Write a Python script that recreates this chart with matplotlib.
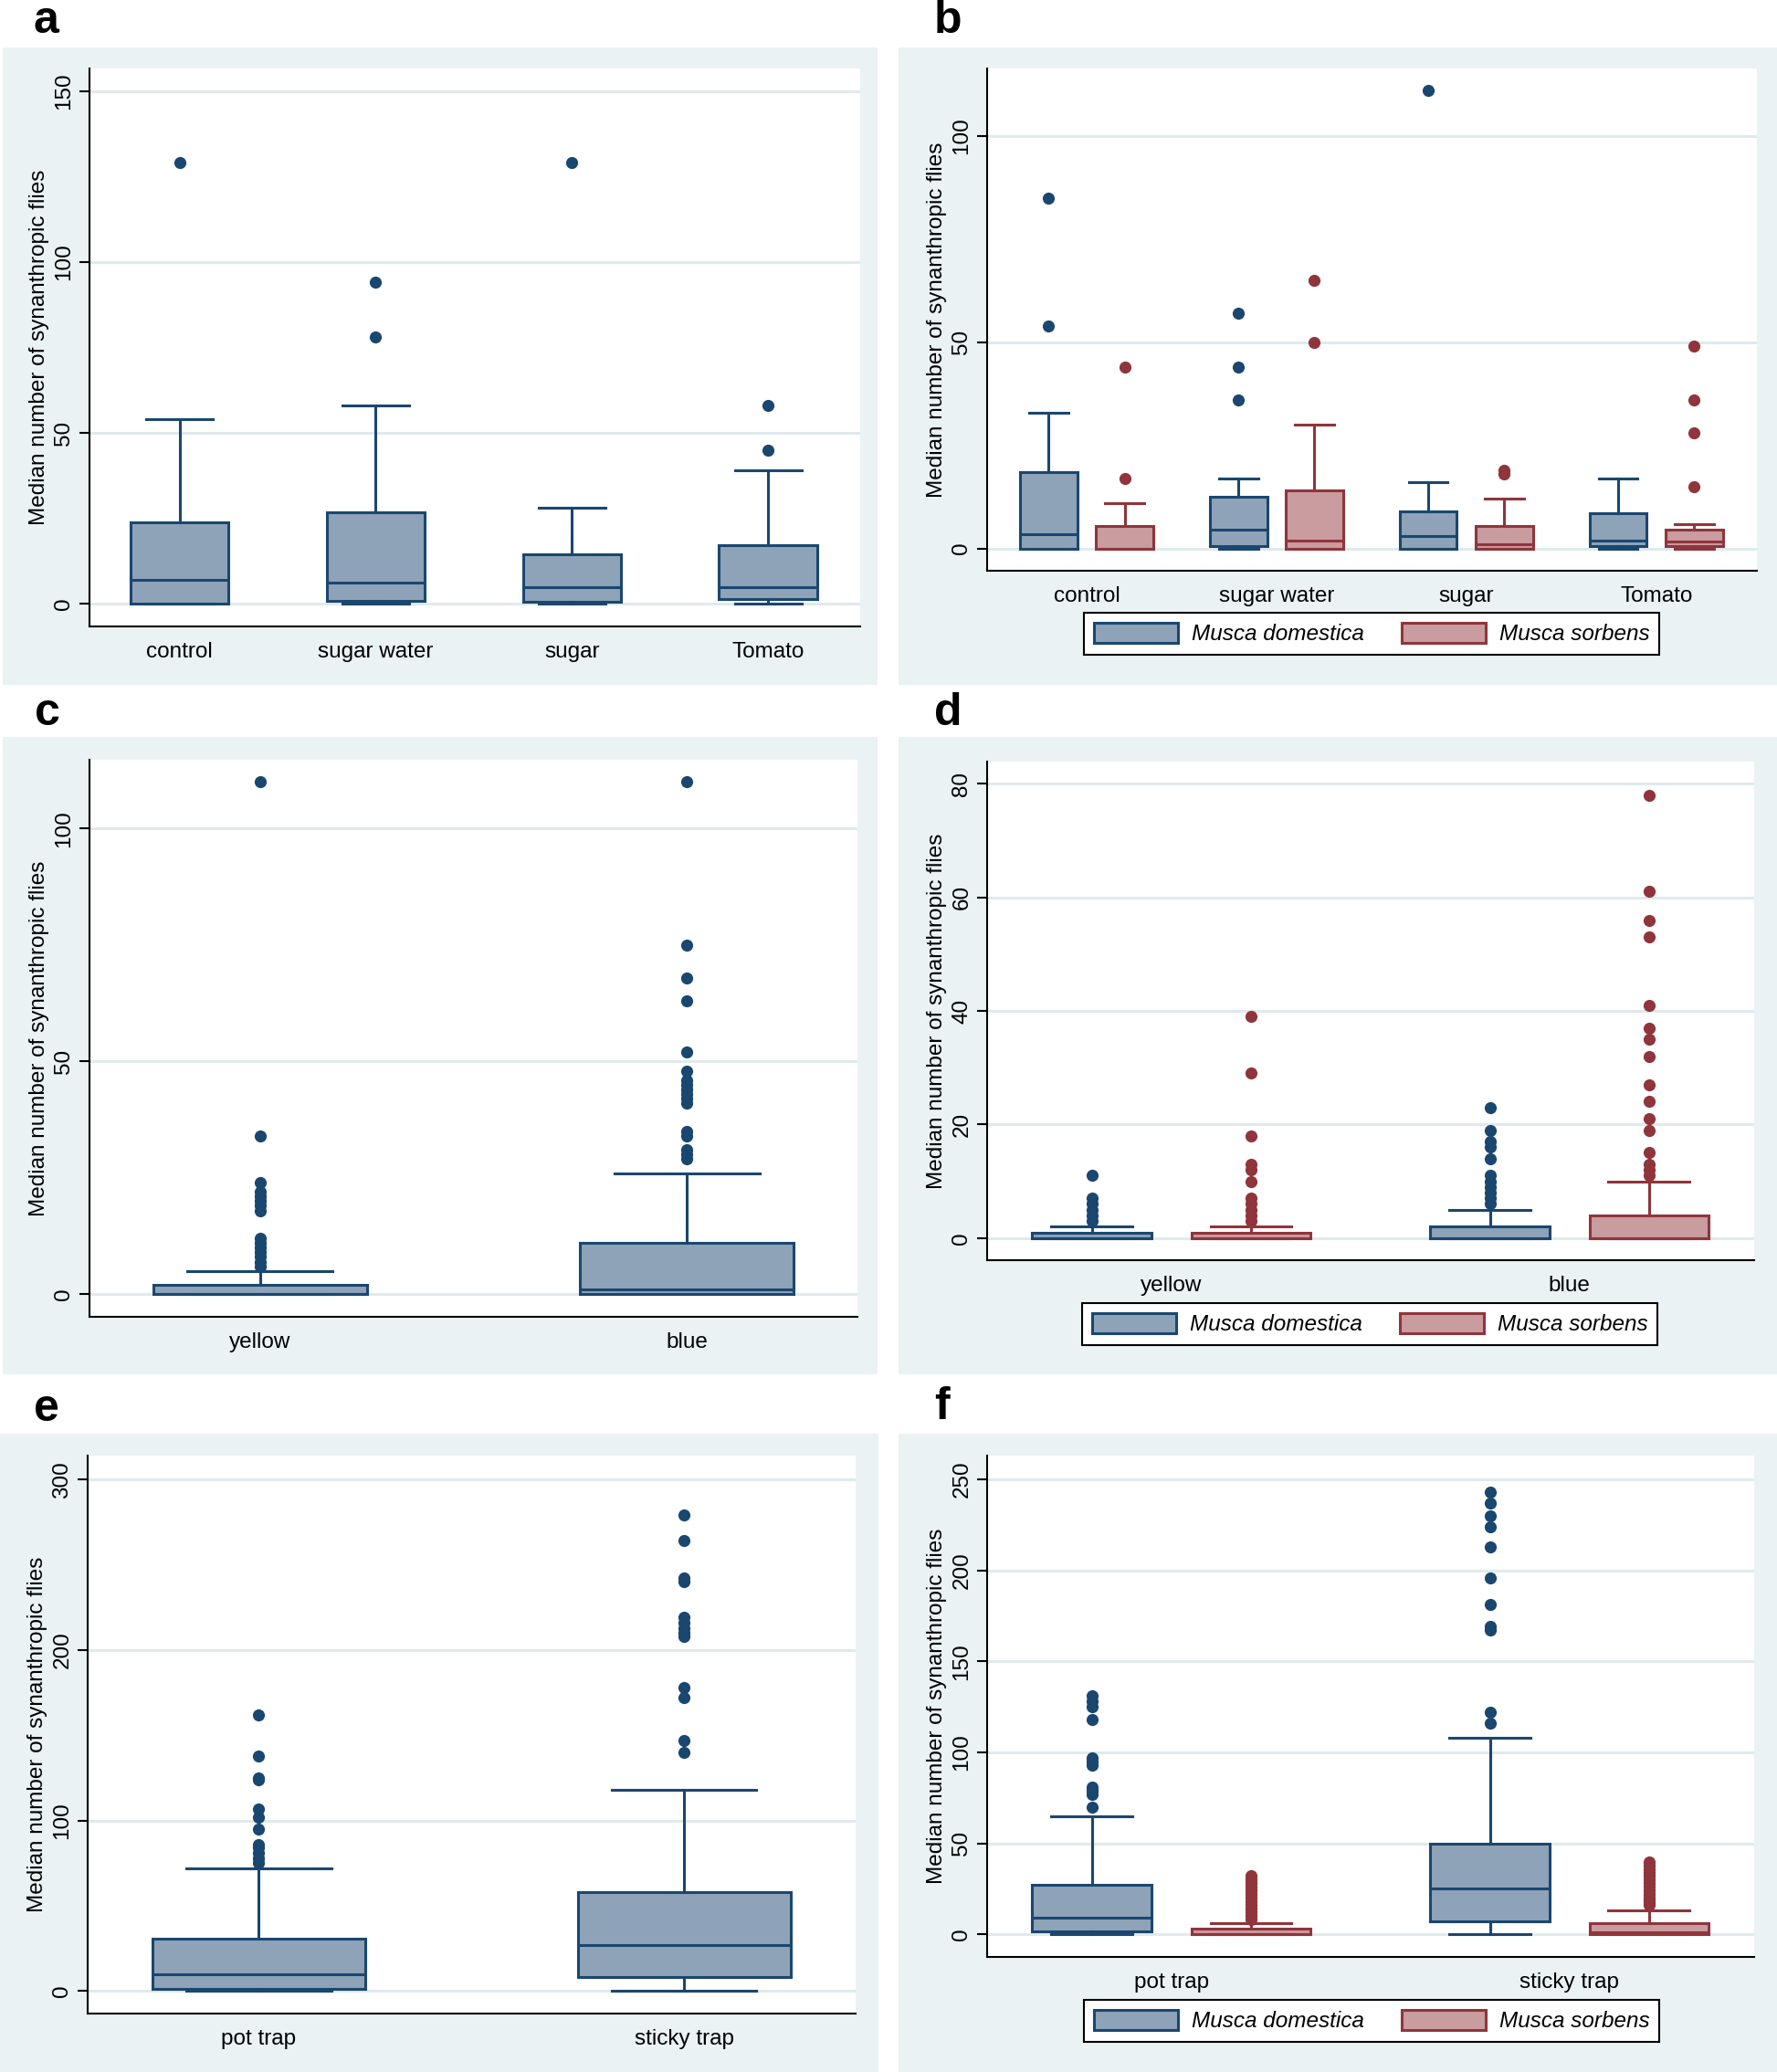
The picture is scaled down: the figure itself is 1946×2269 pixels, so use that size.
import numpy as np
import matplotlib
matplotlib.use('Agg')
import matplotlib.pyplot as plt
from matplotlib.patches import Rectangle, Patch

plt.rcParams['font.family'] = ['Liberation Sans', 'DejaVu Sans']

# ---------------- data ----------------
YLABEL = "Median number of synanthropic flies"
SPECIES = ["Musca domestica", "Musca sorbens"]

# panel a (bait, all flies)
a_cats = ["control", "sugar water", "sugar", "Tomato"]
a_q1 = [0, 1.0, 0.6, 1.3]
a_med = [7.0, 6.3, 4.9, 4.9]
a_q3 = [23.9, 26.9, 14.5, 17.3]
a_lo = [0, 0, 0, 0]
a_hi = [54, 58, 28, 39]
a_out = [[129], [94, 78], [129], [58, 45]]

# panel b (bait, by species)
b_cats = ["control", "sugar water", "sugar", "Tomato"]
b_dom_q1 = [0, 0.5, 0, 0.5]
b_dom_med = [3.5, 4.5, 3.0, 1.8]
b_dom_q3 = [18.5, 12.6, 9.0, 8.5]
b_dom_lo = [0, 0, 0, 0]
b_dom_hi = [33, 17, 16, 17]
b_dom_out = [[85, 54], [57, 44, 36], [111], []]
b_sor_q1 = [0, 0, 0, 0.5]
b_sor_med = [0, 1.9, 1.1, 1.6]
b_sor_q3 = [5.5, 14, 5.5, 4.5]
b_sor_lo = [0, 0, 0, 0]
b_sor_hi = [11, 30, 12, 6]
b_sor_out = [[44, 17], [65, 50], [19, 18], [49, 36, 28, 15]]

# panel c (colour, all flies)
c_cats = ["yellow", "blue"]
c_q1 = [0, 0]
c_med = [0, 1]
c_q3 = [2, 11]
c_lo = [0, 0]
c_hi = [5, 26]
c_out = [[110, 34, 24, 22, 21, 20, 19, 18, 12, 11, 10, 9, 8, 7, 6],
         [110, 75, 68, 63, 52, 48, 46, 45, 44, 43, 42, 41, 35, 34, 31, 30, 29]]

# panel d (colour, by species)
d_cats = ["yellow", "blue"]
d_dom_q1 = [0, 0]
d_dom_med = [0, 0]
d_dom_q3 = [1, 2]
d_dom_lo = [0, 0]
d_dom_hi = [2, 5]
d_dom_out = [[11, 7, 6, 5, 4, 3],
             [23, 19, 17, 16, 14, 11, 10, 9, 8, 7, 6]]
d_sor_q1 = [0, 0]
d_sor_med = [0, 0]
d_sor_q3 = [1, 4]
d_sor_lo = [0, 0]
d_sor_hi = [2, 10]
d_sor_out = [[39, 29, 18, 13, 12, 10, 7, 6, 5, 4, 3],
             [78, 61, 56, 53, 41, 37, 35, 32, 27, 24, 21, 19, 15, 13, 12, 11]]

# panel e (trap type, all flies)
e_cats = ["pot trap", "sticky trap"]
e_q1 = [1.5, 8]
e_med = [10, 27]
e_q3 = [30.6, 58]
e_lo = [0, 0]
e_hi = [72, 118]
e_out = [[162, 138, 125, 124, 107, 102, 95, 86, 84, 81, 78, 75],
         [279, 264, 242, 240, 219, 216, 213, 210, 208, 178, 172, 147, 140]]

# panel f (trap type, by species)
f_cats = ["pot trap", "sticky trap"]
f_dom_q1 = [1.5, 7]
f_dom_med = [9, 25]
f_dom_q3 = [27, 50]
f_dom_lo = [0, 0]
f_dom_hi = [65, 108]
f_dom_out = [[131, 128, 125, 118, 97, 95, 93, 81, 79, 77, 70],
             [243, 237, 230, 224, 213, 196, 181, 169, 167, 122, 116]]
f_sor_q1 = [0, 0]
f_sor_med = [0, 1]
f_sor_q3 = [3, 6]
f_sor_lo = [0, 0]
f_sor_hi = [6, 13]
f_sor_out = [[32, 30, 28, 26, 24, 22, 20, 18, 16, 14, 12, 10, 8],
             [40, 38, 36, 34, 32, 30, 28, 26, 24, 22, 20, 19, 18, 17, 16]]

# ---------------- style ----------------
W, H = 1946, 2269
DOM_FILL, DOM_EDGE = '#8FA3B8', '#1A476F'
SOR_FILL, SOR_EDGE = '#C99CA0', '#90353B'
BG = '#EAF2F3'
GRID = '#E0EAEC'
FS = 17.5
LW = 2.2

fig = plt.figure(figsize=(W / 100, H / 100), dpi=100)
fig.patch.set_facecolor('white')


def px_axes(l, t, r, b):
    ax = fig.add_axes([l / W, 1 - b / H, (r - l) / W, (b - t) / H])
    ax.set_zorder(5)
    return ax


def bg(l, t, r, b):
    fig.patches.append(Rectangle((l / W, 1 - b / H), (r - l) / W, (b - t) / H,
                                 transform=fig.transFigure, facecolor=BG,
                                 edgecolor='none', zorder=-10))


def make_stats(q1, med, q3, lo, hi, out):
    return [dict(q1=q1[i], med=med[i], q3=q3[i], whislo=lo[i], whishi=hi[i],
                 fliers=np.array(out[i], dtype=float)) for i in range(len(q1))]


def draw(ax, stats, pos, width, fill, edge):
    ax.bxp(stats, positions=pos, widths=width, capwidths=width * 0.68,
           patch_artist=True, showfliers=True, manage_ticks=False,
           boxprops=dict(facecolor=fill, edgecolor=edge, linewidth=LW),
           whiskerprops=dict(color=edge, linewidth=LW),
           capprops=dict(color=edge, linewidth=LW),
           medianprops=dict(color=edge, linewidth=LW),
           flierprops=dict(marker='o', markerfacecolor=edge, markeredgecolor=edge,
                           markersize=9.5, markeredgewidth=0))


def style(ax, ylim, yticks, xlim, xpos, xlabels):
    ax.set_facecolor('white')
    ax.set_ylim(*ylim)
    ax.set_xlim(*xlim)
    ax.set_yticks(yticks)
    ax.set_yticklabels([str(t) for t in yticks])
    ax.set_xticks(xpos)
    ax.set_xticklabels(xlabels)
    for s in ['top', 'right']:
        ax.spines[s].set_visible(False)
    for s in ['left', 'bottom']:
        ax.spines[s].set_linewidth(1.5)
        ax.spines[s].set_color('black')
    ax.yaxis.grid(True, color=GRID, linewidth=2.2)
    ax.xaxis.grid(False)
    ax.set_axisbelow(True)
    ax.tick_params(axis='y', length=8, width=1.5, labelsize=FS, pad=4)
    ax.tick_params(axis='x', length=0, labelsize=FS, pad=12)
    for lbl in ax.get_yticklabels():
        lbl.set_rotation(90)
        lbl.set_va('center')
        lbl.set_ha('right')
    ax.set_ylabel(YLABEL, fontsize=FS)
    ax.yaxis.set_label_coords(-0.052, 0.5)


def legend(cx, cy):
    handles = [Patch(facecolor=DOM_FILL, edgecolor=DOM_EDGE, linewidth=LW),
               Patch(facecolor=SOR_FILL, edgecolor=SOR_EDGE, linewidth=LW)]
    leg = fig.legend(handles, SPECIES, loc='center', bbox_to_anchor=(cx / W, 1 - cy / H),
                     ncol=2, frameon=True, fancybox=False, edgecolor='black',
                     framealpha=1.0, facecolor='white',
                     prop=dict(style='italic', size=FS), handlelength=3.8,
                     handleheight=1.0, handletextpad=0.6, columnspacing=1.7,
                     borderpad=0.45, borderaxespad=0)
    leg.get_frame().set_linewidth(1.5)
    leg.set_zorder(10)


def letter(x, y, s):
    fig.text(x / W, 1 - y / H, s, fontsize=36, fontweight='bold', ha='left', va='baseline')


# backgrounds
bg(3, 52, 961, 750)
bg(984, 52, 1946, 750)
bg(3, 807, 961, 1505)
bg(984, 807, 1946, 1505)
bg(0, 1570, 962, 2269)
bg(984, 1570, 1946, 2269)

# ---- a ----
ax = px_axes(98, 75, 942, 686)
pos = np.arange(1, len(a_cats) + 1)
draw(ax, make_stats(a_q1, a_med, a_q3, a_lo, a_hi, a_out), pos, 0.5, DOM_FILL, DOM_EDGE)
style(ax, (-6.6, 156.6), [0, 50, 100, 150], (0.541, 4.47), pos, a_cats)
letter(37, 36, 'a')

# ---- b ----
ax = px_axes(1081, 75, 1924, 625)
pos = np.arange(1, len(b_cats) + 1)
draw(ax, make_stats(b_dom_q1, b_dom_med, b_dom_q3, b_dom_lo, b_dom_hi, b_dom_out), pos - 0.2, 0.3, DOM_FILL, DOM_EDGE)
draw(ax, make_stats(b_sor_q1, b_sor_med, b_sor_q3, b_sor_lo, b_sor_hi, b_sor_out), pos + 0.2, 0.3, SOR_FILL, SOR_EDGE)
style(ax, (-5.4, 116.4), [0, 50, 100], (0.476, 4.53), pos, b_cats)
legend(1502, 694)
letter(1023, 36, 'b')

# ---- c ----
ax = px_axes(98, 832, 939, 1442)
pos = np.arange(1, len(c_cats) + 1)
draw(ax, make_stats(c_q1, c_med, c_q3, c_lo, c_hi, c_out), pos, 0.5, DOM_FILL, DOM_EDGE)
style(ax, (-4.85, 114.8), [0, 50, 100], (0.6, 2.4), pos, c_cats)
letter(38, 794, 'c')

# ---- d ----
ax = px_axes(1081, 834, 1921, 1380)
pos = np.arange(1, len(d_cats) + 1)
draw(ax, make_stats(d_dom_q1, d_dom_med, d_dom_q3, d_dom_lo, d_dom_hi, d_dom_out), pos - 0.2, 0.3, DOM_FILL, DOM_EDGE)
draw(ax, make_stats(d_sor_q1, d_sor_med, d_sor_q3, d_sor_lo, d_sor_hi, d_sor_out), pos + 0.2, 0.3, SOR_FILL, SOR_EDGE)
style(ax, (-3.9, 83.9), [0, 20, 40, 60, 80], (0.537, 2.464), pos, d_cats)
legend(1500, 1450)
letter(1023, 794, 'd')

# ---- e ----
ax = px_axes(96, 1594, 937, 2205)
pos = np.arange(1, len(e_cats) + 1)
draw(ax, make_stats(e_q1, e_med, e_q3, e_lo, e_hi, e_out), pos, 0.5, DOM_FILL, DOM_EDGE)
style(ax, (-13.2, 314), [0, 100, 200, 300], (0.598, 2.403), pos, e_cats)
letter(37, 1556, 'e')

# ---- f ----
ax = px_axes(1081, 1594, 1921, 2143)
pos = np.arange(1, len(f_cats) + 1)
draw(ax, make_stats(f_dom_q1, f_dom_med, f_dom_q3, f_dom_lo, f_dom_hi, f_dom_out), pos - 0.2, 0.3, DOM_FILL, DOM_EDGE)
draw(ax, make_stats(f_sor_q1, f_sor_med, f_sor_q3, f_sor_lo, f_sor_hi, f_sor_out), pos + 0.2, 0.3, SOR_FILL, SOR_EDGE)
style(ax, (-12.4, 263), [0, 50, 100, 150, 200, 250], (0.537, 2.464), pos, f_cats)
legend(1502, 2213)
letter(1023, 1554, 'f')

fig.savefig('out.png', dpi=100, facecolor='white')
